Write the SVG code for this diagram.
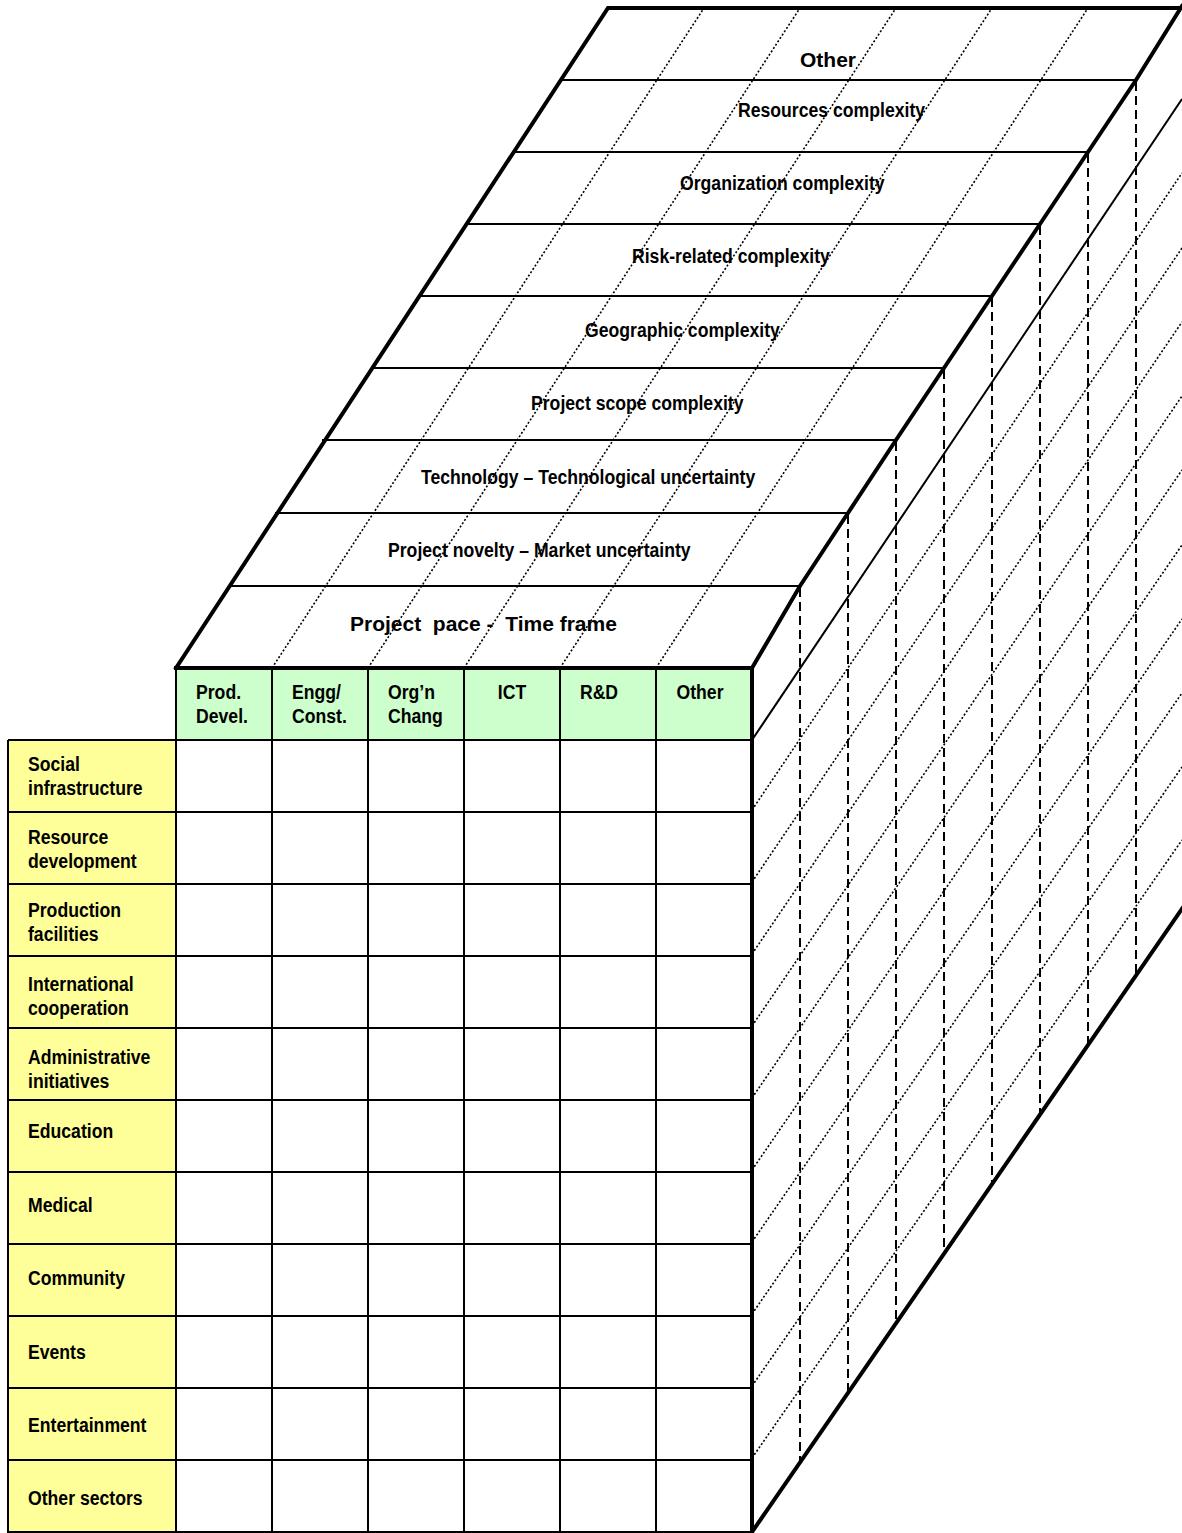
<svg xmlns="http://www.w3.org/2000/svg" width="1182" height="1533" viewBox="0 0 1182 1533">
<style>
.t{font-family:"Liberation Sans",Arial,sans-serif;font-weight:bold;font-size:21px;fill:#000}
.thin{stroke:#000;stroke-width:2;fill:none}
.thick{stroke:#000;stroke-width:4;fill:none;stroke-linejoin:miter;stroke-linecap:square}
.dot{stroke:#000;stroke-width:1.6;stroke-dasharray:2 2;fill:none}
.dash{stroke:#000;stroke-width:2;stroke-dasharray:9 5;fill:none}
.hdr{fill:#CCFFCC}
.lab{fill:#FFFF99}
</style>
<rect x="0" y="0" width="1182" height="1533" fill="#fff"/>

<g id="top-face">
  <polygon points="176,668 608,8 1180,8 1136,80 1088,152 1040,224 992,296 944,368 896,440 848,513 800,586 752,668" fill="#fff"/>
  <g id="top-strip-lines">
    <line class="thin" x1="561" y1="80" x2="1136" y2="80"/>
    <line class="thin" x1="514" y1="152" x2="1088" y2="152"/>
    <line class="thin" x1="467" y1="224" x2="1040" y2="224"/>
    <line class="thin" x1="420" y1="296" x2="992" y2="296"/>
    <line class="thin" x1="372" y1="368" x2="944" y2="368"/>
    <line class="thin" x1="322" y1="440" x2="896" y2="440"/>
    <line class="thin" x1="275" y1="513" x2="848" y2="513"/>
    <line class="thin" x1="228" y1="586" x2="800" y2="586"/>
  </g>
  <g id="top-dotted">
    <line class="dot" x1="272" y1="668" x2="704" y2="8"/>
    <line class="dot" x1="368" y1="668" x2="800" y2="8"/>
    <line class="dot" x1="464" y1="668" x2="896" y2="8"/>
    <line class="dot" x1="560" y1="668" x2="992" y2="8"/>
    <line class="dot" x1="656" y1="668" x2="1088" y2="8"/>
  </g>
  <g id="top-labels">
    <text class="t" x="800" y="67">Other</text>
    <text class="t" transform="translate(738,117) scale(0.84 1)">Resources complexity</text>
    <text class="t" transform="translate(680,190) scale(0.84 1)">Organization complexity</text>
    <text class="t" transform="translate(632,263) scale(0.84 1)">Risk-related complexity</text>
    <text class="t" transform="translate(585,337) scale(0.84 1)">Geographic complexity</text>
    <text class="t" transform="translate(531,410) scale(0.84 1)">Project scope complexity</text>
    <text class="t" transform="translate(421,484) scale(0.84 1)">Technology – Technological uncertainty</text>
    <text class="t" transform="translate(388,557) scale(0.84 1)">Project novelty – Market uncertainty</text>
    <text class="t" x="350" y="631" xml:space="preserve">Project  pace -  Time frame</text>
  </g>
</g>

<g id="right-face">
  <line class="thin" x1="752" y1="740" x2="1182" y2="99"/>
  <g id="right-dotted">
    <line class="dot" x1="752" y1="810" x2="1182" y2="173"/>
    <line class="dot" x1="752" y1="882" x2="1182" y2="248"/>
    <line class="dot" x1="752" y1="954" x2="1182" y2="322"/>
    <line class="dot" x1="752" y1="1026" x2="1182" y2="396"/>
    <line class="dot" x1="752" y1="1098" x2="1182" y2="470"/>
    <line class="dot" x1="752" y1="1170" x2="1182" y2="545"/>
    <line class="dot" x1="752" y1="1242" x2="1182" y2="619"/>
    <line class="dot" x1="752" y1="1314" x2="1182" y2="693"/>
    <line class="dot" x1="752" y1="1386" x2="1182" y2="767"/>
    <line class="dot" x1="752" y1="1458" x2="1182" y2="840"/>
  </g>
  <g id="right-dashed">
    <line class="dash" x1="800" y1="588" x2="800" y2="1462"/>
    <line class="dash" x1="848" y1="515" x2="848" y2="1393"/>
    <line class="dash" x1="896" y1="442" x2="896" y2="1323"/>
    <line class="dash" x1="944" y1="370" x2="944" y2="1254"/>
    <line class="dash" x1="992" y1="298" x2="992" y2="1184"/>
    <line class="dash" x1="1040" y1="226" x2="1040" y2="1115"/>
    <line class="dash" x1="1088" y1="154" x2="1088" y2="1045"/>
    <line class="dash" x1="1136" y1="82" x2="1136" y2="975"/>
  </g>
</g>

<g id="header-row">
  <rect class="hdr" x="176" y="668" width="576" height="72"/>
  <g id="h-prod"><text class="t" transform="translate(196,699) scale(0.84 1)">Prod.</text><text class="t" transform="translate(196,723) scale(0.84 1)">Devel.</text></g>
  <g id="h-engg"><text class="t" transform="translate(292,699) scale(0.84 1)">Engg/</text><text class="t" transform="translate(292,723) scale(0.84 1)">Const.</text></g>
  <g id="h-org"><text class="t" transform="translate(388,699) scale(0.84 1)">Org’n</text><text class="t" transform="translate(388,723) scale(0.84 1)">Chang</text></g>
  <g id="h-ict"><text class="t" text-anchor="middle" transform="translate(512,699) scale(0.84 1)">ICT</text></g>
  <g id="h-rd"><text class="t" text-anchor="middle" transform="translate(599,699) scale(0.84 1)">R&amp;D</text></g>
  <g id="h-other"><text class="t" text-anchor="middle" transform="translate(700,699) scale(0.84 1)">Other</text></g>
</g>

<g id="label-column">
  <rect class="lab" x="8" y="740" width="168" height="793"/>
  <g id="l-social"><text class="t" transform="translate(28,771) scale(0.84 1)">Social</text><text class="t" transform="translate(28,795) scale(0.84 1)">infrastructure</text></g>
  <g id="l-resource"><text class="t" transform="translate(28,844) scale(0.84 1)">Resource</text><text class="t" transform="translate(28,868) scale(0.84 1)">development</text></g>
  <g id="l-production"><text class="t" transform="translate(28,917) scale(0.84 1)">Production</text><text class="t" transform="translate(28,941) scale(0.84 1)">facilities</text></g>
  <g id="l-international"><text class="t" transform="translate(28,991) scale(0.84 1)">International</text><text class="t" transform="translate(28,1015) scale(0.84 1)">cooperation</text></g>
  <g id="l-admin"><text class="t" transform="translate(28,1064) scale(0.84 1)">Administrative</text><text class="t" transform="translate(28,1088) scale(0.84 1)">initiatives</text></g>
  <g id="l-education"><text class="t" transform="translate(28,1138) scale(0.84 1)">Education</text></g>
  <g id="l-medical"><text class="t" transform="translate(28,1212) scale(0.84 1)">Medical</text></g>
  <g id="l-community"><text class="t" transform="translate(28,1285) scale(0.84 1)">Community</text></g>
  <g id="l-events"><text class="t" transform="translate(28,1359) scale(0.84 1)">Events</text></g>
  <g id="l-entertainment"><text class="t" transform="translate(28,1432) scale(0.84 1)">Entertainment</text></g>
  <g id="l-other"><text class="t" transform="translate(28,1505) scale(0.84 1)">Other sectors</text></g>
</g>

<g id="grid">
  <line class="thin" x1="8" y1="740" x2="8" y2="1533"/>
  <line class="thin" x1="176" y1="668" x2="176" y2="1533"/>
  <line class="thin" x1="272" y1="668" x2="272" y2="1533"/>
  <line class="thin" x1="368" y1="668" x2="368" y2="1533"/>
  <line class="thin" x1="464" y1="668" x2="464" y2="1533"/>
  <line class="thin" x1="560" y1="668" x2="560" y2="1533"/>
  <line class="thin" x1="656" y1="668" x2="656" y2="1533"/>
  <line class="thin" x1="8" y1="740" x2="752" y2="740"/>
  <line class="thin" x1="8" y1="812" x2="752" y2="812"/>
  <line class="thin" x1="8" y1="884" x2="752" y2="884"/>
  <line class="thin" x1="8" y1="956" x2="752" y2="956"/>
  <line class="thin" x1="8" y1="1028" x2="752" y2="1028"/>
  <line class="thin" x1="8" y1="1100" x2="752" y2="1100"/>
  <line class="thin" x1="8" y1="1172" x2="752" y2="1172"/>
  <line class="thin" x1="8" y1="1244" x2="752" y2="1244"/>
  <line class="thin" x1="8" y1="1316" x2="752" y2="1316"/>
  <line class="thin" x1="8" y1="1388" x2="752" y2="1388"/>
  <line class="thin" x1="8" y1="1460" x2="752" y2="1460"/>
  <line class="thin" x1="8" y1="1532" x2="752" y2="1532"/>
</g>

<g id="outline">
  <polyline class="thick" points="176,668 608,8 1182,8"/>
  <polyline class="thick" points="752,668 800,586 848,513 896,440 944,368 992,296 1040,224 1088,152 1136,80 1182,6"/>
  <line class="thick" x1="176" y1="668" x2="752" y2="668"/>
  <line class="thick" x1="752" y1="668" x2="752" y2="1533"/>
  <line class="thick" x1="752" y1="1532" x2="1186" y2="903"/>
</g>
</svg>
